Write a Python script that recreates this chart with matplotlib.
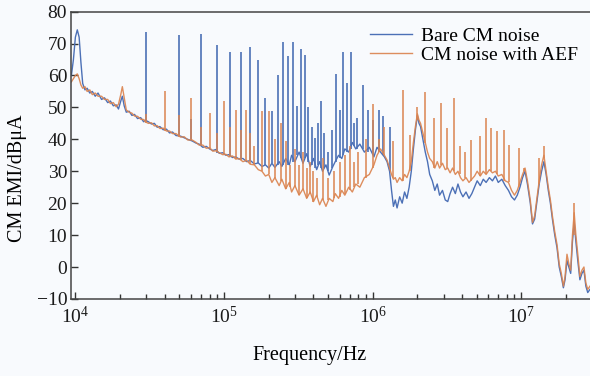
import matplotlib
matplotlib.use('Agg')
import matplotlib.pyplot as plt
from matplotlib.ticker import LogLocator, MultipleLocator, NullFormatter

# ---- data (frequency in Hz, level in dBuA) ----
# noise floor, bare CM noise
blue_f = [9.4e3, 9.7e3, 1.0e4, 1.03e4, 1.06e4, 1.09e4, 1.12e4, 1.16e4, 1.2e4, 1.25e4,
          1.3e4, 1.36e4, 1.42e4, 1.5e4, 1.57e4, 1.65e4, 1.72e4, 1.8e4, 1.88e4, 1.95e4,
          2.02e4, 2.07e4, 2.13e4, 2.2e4, 2.3e4, 2.4e4, 2.5e4, 2.62e4, 2.75e4, 2.88e4,
          2.95e4, 3.1e4, 3.25e4, 3.4e4, 3.55e4, 3.7e4, 3.9e4, 4.1e4, 4.3e4, 4.5e4,
          4.75e4, 5.1e4, 5.4e4, 5.7e4, 6.1e4, 6.5e4, 6.8e4, 7.2e4, 7.6e4, 8e4,
          8.4e4, 8.8e4, 9.3e4, 9.8e4, 1.03e5, 1.08e5, 1.14e5, 1.2e5, 1.26e5, 1.34e5,
          1.42e5, 1.5e5, 1.6e5, 1.7e5, 1.8e5, 1.9e5, 2.0e5, 2.1e5, 2.2e5, 2.35e5,
          2.45e5, 2.6e5, 2.75e5, 2.85e5, 3.0e5, 3.2e5, 3.4e5, 3.6e5, 3.8e5, 4.0e5,
          4.2e5, 4.4e5, 4.6e5, 4.85e5, 5.1e5, 5.4e5, 5.6e5, 5.9e5, 6.2e5, 6.5e5,
          6.9e5, 7.3e5, 7.7e5, 8.2e5, 8.8e5, 9.5e5, 1.02e6, 1.07e6, 1.13e6, 1.2e6,
          1.25e6, 1.3e6, 1.34e6, 1.38e6, 1.42e6, 1.46e6, 1.52e6, 1.58e6, 1.64e6, 1.7e6,
          1.76e6, 1.82e6, 1.88e6, 1.94e6, 2.0e6, 2.05e6, 2.1e6, 2.18e6, 2.26e6, 2.34e6,
          2.42e6, 2.52e6, 2.62e6, 2.72e6, 2.82e6, 2.95e6, 3.08e6, 3.2e6, 3.32e6, 3.45e6,
          3.6e6, 3.75e6, 3.9e6, 4.05e6, 4.25e6, 4.45e6, 4.65e6, 4.85e6, 5.05e6, 5.3e6,
          5.55e6, 5.8e6, 6.1e6, 6.4e6, 6.7e6, 7.0e6, 7.4e6, 7.8e6, 8.2e6, 8.6e6,
          9.0e6, 9.4e6, 9.8e6, 1.02e7, 1.06e7, 1.1e7, 1.15e7, 1.19e7, 1.23e7, 1.27e7,
          1.32e7, 1.37e7, 1.42e7, 1.47e7, 1.52e7, 1.57e7, 1.62e7, 1.68e7, 1.74e7, 1.8e7,
          1.86e7, 1.92e7, 1.97e7, 2.03e7, 2.09e7, 2.15e7, 2.21e7, 2.27e7, 2.33e7, 2.4e7,
          2.48e7, 2.56e7, 2.64e7, 2.72e7, 2.8e7, 2.9e7]
blue_db = [60, 65, 72, 74.3, 72, 64, 57.5, 55.5, 56, 54.5,
           55, 53.5, 54.5, 52.5, 53, 51.5, 52, 50.5, 50.8, 49.5,
           52, 53.5, 50.5, 48.5, 48.8, 47.5, 47.8, 46.5, 46.8, 45.5,
           46, 45.5, 44.8, 45, 43.8, 44, 43, 43.2, 42, 42.3,
           41.2, 41, 40.5, 40, 39.5, 38.8, 38.5, 37.5, 37.8, 37,
           36.5, 36.8, 35.6, 35.8, 35, 35.2, 34.3, 34.5, 33.8, 34,
           33, 33.4, 32.3, 32.6, 31.5, 32, 31, 32.5, 31.2, 33,
           31.5, 34, 32, 35, 33, 36, 32.5, 35.5, 31.5, 34,
           30.5, 33, 30, 32, 28.8, 31.5, 33, 35, 34, 37,
           36, 39, 37, 38.5, 36, 37.5, 34.5, 37.5, 36, 34.5,
           33, 30, 24, 19, 21, 18.5, 22, 20, 23.5, 21.5,
           25, 30, 37, 43, 47.5, 45, 44, 40, 36, 33,
           29, 27, 24, 26, 22.5, 24, 21, 20.5, 23, 25,
           23, 26, 23.5, 22, 23.5, 21.5, 23, 25, 27, 25.5,
           27.5, 26.5, 28, 27, 28.5, 26.5, 27.5, 25.5, 24, 22,
           21, 22.5, 25, 28, 30, 26, 20, 13.5, 15, 20,
           26, 30, 33, 29, 24, 20, 15, 10, 6, 0,
           -3, -6.5, -4, 2, 0, -2, 8, 14, 8, 2,
           -4, -2, -1, -6, -8, -7]

# noise floor, CM noise with AEF
orange_f = blue_f
orange_db = [58, 59, 60, 60.5, 59, 57, 56, 56.5, 55, 55.5,
             54, 54.5, 53.5, 53.5, 52.5, 52.5, 51.2, 51.5, 50.2, 51,
             54, 56.5, 53, 49.2, 48.5, 48.2, 47.3, 47.2, 46.3, 46.2,
             45.5, 45, 45.2, 44.2, 44.3, 43.4, 43.5, 42.6, 42.6, 41.8,
             41.8, 40.7, 40.8, 39.8, 39.8, 39, 38.2, 38.2, 37.2, 37.4,
             36.3, 36.4, 35.8, 35.2, 35.3, 34.5, 34.8, 33.8, 34, 33,
             33.4, 32.2, 32, 30.5, 30, 28.5, 29, 26.5, 28, 25.5,
             27.5, 24.5, 26.5, 23.5, 25.5, 22.5, 24.5, 21.5, 23.5, 20.5,
             22.5, 19.5, 21.5, 19, 21.5, 20.5, 23, 21.5, 24, 22.5,
             25, 23.5, 26, 25, 28, 29, 32, 35, 37, 35,
             33.5, 31, 29, 27.5, 28, 26.5, 28, 27, 29, 28,
             30, 33, 39, 44, 48, 46, 45, 42, 39, 36,
             34, 33, 31, 33, 31, 32.5, 30.5, 31, 29.5, 31,
             29, 30, 28, 27, 28, 26.5, 27.5, 28.5, 30, 28.5,
             30, 29, 30.5, 29.5, 30, 28.5, 29, 27, 26.5, 24,
             22.5, 24, 26.5, 29, 31, 27, 21, 14, 16, 21,
             27, 32, 35, 30, 25, 21, 16, 11, 7, 1,
             -2, -6, -3, 4, 1, -1, 10, 17, 10, 4,
             -3, -1, 0, -5, -7, -6]

# harmonic spikes: frequency, peak, floor under the spike
blue_spike_f = [3e4, 5e4, 6e4, 7e4, 9e4, 1.1e5, 1.3e5, 1.5e5, 1.7e5, 1.9e5,
                2.1e5, 2.3e5, 2.5e5, 2.7e5, 2.9e5, 3.1e5, 3.3e5, 3.5e5, 3.7e5, 3.9e5,
                4.1e5, 4.3e5, 4.5e5, 4.7e5, 5.0e5, 5.3e5, 5.7e5, 6.0e5, 6.3e5, 6.7e5,
                7.1e5, 7.5e5, 7.9e5, 8.6e5, 9.3e5, 1.0e6, 1.11e6, 1.18e6, 1.3e6]
blue_spike_top = [73.5, 72.7, 46.5, 73, 69.5, 67.3, 67.3, 69, 65, 53,
                  49, 60, 70.5, 66, 70.5, 50.5, 68.3, 66.4, 50, 44,
                  40.4, 45, 52, 42, 36, 43, 60.4, 49.3, 67.3, 57.8,
                  67.3, 45, 46.8, 57, 49.3, 46, 49.3, 47.4, 44]
blue_spike_low = [45.5, 41, 39.5, 37.8, 35.8, 34.5, 34, 33.4, 32.6, 32,
                  32.5, 32, 32, 32, 33, 35, 34, 34, 33, 32,
                  31, 32, 31, 31, 30, 31, 33, 34, 35, 36,
                  37, 38, 37, 37, 36, 35, 36, 35, 30]

orange_spike_f = [3e4, 4e4, 5e4, 6e4, 7e4, 8e4, 9e4, 1.0e5, 1.1e5, 1.2e5,
                  1.3e5, 1.4e5, 1.5e5, 1.6e5, 1.8e5, 2.0e5, 2.2e5, 2.4e5, 2.6e5, 2.8e5,
                  3.0e5, 3.2e5, 3.4e5, 3.6e5, 3.8e5, 4.0e5, 4.2e5, 4.6e5, 5.0e5, 5.5e5,
                  6.0e5, 6.5e5, 7.0e5, 7.5e5, 8.0e5, 9.0e5, 1.0e6, 1.1e6, 1.2e6, 1.38e6,
                  1.6e6, 1.77e6, 1.98e6, 2.24e6, 2.6e6, 2.9e6, 3.17e6, 3.5e6, 3.85e6, 4.2e6,
                  4.6e6, 5.3e6, 5.8e6, 6.3e6, 6.9e6, 7.7e6, 8.3e6, 9.6e6, 1.05e7, 1.31e7,
                  1.42e7, 2.26e7]
orange_spike_top = [48, 55, 47.7, 53, 44, 48.4, 42, 52, 44, 49.3,
                    43, 49.3, 42, 38, 49, 49, 40, 45, 39.5, 32,
                    37, 32, 36, 31, 33, 30, 28, 34, 28, 30,
                    33, 35, 38, 33, 36, 40, 51, 40, 44, 39.5,
                    55.3, 41.4, 50, 54.7, 46.8, 51.5, 43.6, 53, 38, 36,
                    39.8, 41, 46.8, 43.6, 42.6, 43, 38.3, 37.3, 31, 34,
                    38, 20]
orange_spike_low = [45, 42.6, 40.7, 39.8, 38.2, 37.4, 36.4, 35.3, 34.8, 33.8,
                    33.5, 33.4, 32.2, 32, 30, 29, 28, 27, 24.5, 25,
                    25, 22.5, 24, 21.5, 23, 20.5, 22, 21, 21, 21.5,
                    22, 23, 24, 25, 26, 28, 31, 36, 35, 28,
                    27, 30, 46, 39, 31, 32, 31, 30, 29, 28,
                    27, 28.5, 29, 30, 29, 27, 26.5, 25, 30, 26,
                    34, 10]

blue = '#4c70b6'
orange = '#db8450'
bg = '#f8fafd'

plt.rcParams['font.family'] = ['Liberation Serif', 'DejaVu Serif']
plt.rcParams['mathtext.fontset'] = 'stix'
plt.rcParams['font.size'] = 14

fig = plt.figure(figsize=(5.9, 3.76), dpi=100, facecolor=bg)
ax = fig.add_axes([0.121, 0.205, 0.879, 0.764], facecolor=bg)

# bare noise first, filtered noise on top
ax.plot(blue_f, blue_db, color=blue, lw=1.0, label='Bare CM noise')
ax.vlines(blue_spike_f, blue_spike_low, blue_spike_top, color=blue, lw=1.2)
ax.plot(orange_f, orange_db, color=orange, lw=1.0, alpha=0.92, label='CM noise with AEF')
ax.vlines(orange_spike_f, orange_spike_low, orange_spike_top, color=orange, lw=1.2, alpha=0.92)

ax.set_xscale('log')
ax.set_xlim(9.4e3, 2.9e7)
ax.set_ylim(-10, 80)
ax.yaxis.set_major_locator(MultipleLocator(10))
ax.xaxis.set_major_locator(LogLocator(base=10, numticks=10))
ax.xaxis.set_minor_locator(LogLocator(base=10, subs=range(2, 10), numticks=20))
ax.xaxis.set_minor_formatter(NullFormatter())

ax.tick_params(which='both', direction='in', colors='#333333', labelcolor='#1a1a1a', labelsize=14)
ax.tick_params(which='major', length=5, width=1)
ax.tick_params(which='minor', length=3.5, width=1)
ax.tick_params(axis='x', pad=5)
ax.tick_params(axis='y', pad=3)
for side in ['left', 'bottom', 'top']:
    ax.spines[side].set_color('#444444')
    ax.spines[side].set_linewidth(1.1)
ax.spines['right'].set_visible(False)

ax.set_xlabel('Frequency/Hz', fontsize=14.5)
ax.xaxis.set_label_coords(0.459, -0.165)
ax.set_ylabel('CM EMI/dBμA', fontsize=14.5)
ax.yaxis.set_label_coords(-0.085, 0.42)

ax.legend(loc='upper right', bbox_to_anchor=(1.0, 0.985), frameon=False,
          fontsize=14, handlelength=2.15, handletextpad=0.5, labelspacing=0.05,
          borderaxespad=0.2)

fig.savefig('out.png', dpi=100, facecolor=bg)
